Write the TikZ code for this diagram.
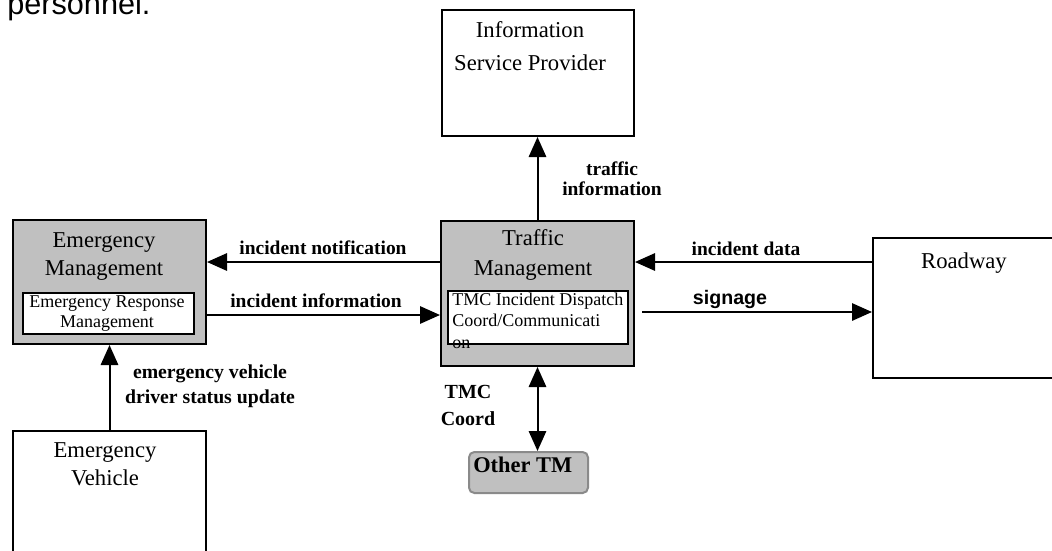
\documentclass[tikz,border=0pt]{standalone}
\usepackage{fontspec}
\setmainfont{Liberation Serif}
\newfontfamily\arialf{Liberation Sans}
\usetikzlibrary{arrows.meta}
\definecolor{boxgray}{HTML}{C0C0C0}
\definecolor{edgegray}{HTML}{8A8A8A}
\tikzset{
  box/.style={draw=black, line width=1.5pt, anchor=north west, inner sep=0pt, fill=white},
  graybox/.style={box, fill=boxgray},
  innerbox/.style={draw=black, line width=1.5pt, anchor=north west, inner sep=0pt, fill=white},
  arr/.style={line width=1.5pt, -{Triangle[length=15pt,width=13pt]}},
  darr/.style={line width=1.5pt, {Triangle[length=15pt,width=13pt]}-{Triangle[length=15pt,width=13pt]}},
  maintxt/.style={anchor=base, inner sep=0pt, align=center, font=\fontsize{17pt}{21pt}\selectfont},
  smalltxt/.style={anchor=base, inner sep=0pt, font=\fontsize{13.5pt}{15pt}\selectfont},
  lbl/.style={anchor=base, inner sep=0pt, align=center, font=\bfseries\fontsize{14.6pt}{15pt}\selectfont},
}
\begin{document}
\begin{tikzpicture}[x=0.75pt,y=-0.75pt]
\clip (0,0) rectangle (1052,550);
% top text fragment
\node[anchor=base west, inner sep=0pt, font=\arialf\fontsize{23pt}{27pt}\selectfont] (pers) at (7,14) {personnel.};
% boxes
\node[box, minimum width=144pt, minimum height=94.5pt] (isp) at (441,9) {};
\node[graybox, minimum width=144.75pt, minimum height=108.75pt] (tm) at (440,220) {};
\node[graybox, minimum width=144.75pt, minimum height=93pt] (em) at (12,219) {};
\node[box, minimum width=144.75pt, minimum height=105pt] (rw) at (872,237) {};
\node[box, minimum width=144.75pt, minimum height=97.5pt] (ev) at (12,430) {};
\node[innerbox, minimum width=128.25pt, minimum height=30.75pt] (emin) at (22,292) {};
\node[innerbox, minimum width=135pt, minimum height=39.75pt] (tmin) at (447,290) {};
\node[draw=edgegray, fill=boxgray, line width=1.5pt, rounded corners=4pt, anchor=north west, inner sep=0pt,
      minimum width=89.25pt, minimum height=30.75pt] (otm) at (468,451) {};
% box texts (anchor = baseline of last line)
\node[maintxt, font=\fontsize{17pt}{24.75pt}\selectfont] (isptxt) at (530,70) {Information\\Service Provider};
\node[maintxt, font=\fontsize{17pt}{22.5pt}\selectfont] (tmtxt) at (533,275) {Traffic\\Management};
\node[maintxt] (emtxt) at (104,275) {Emergency\\Management};
\node[maintxt] (evtxt) at (105,485) {Emergency\\Vehicle};
\node[maintxt] (rwtxt) at (964,268) {Roadway};
\node[smalltxt, align=center] (emintxt) at (107,327) {Emergency Response\\Management};
\node[smalltxt, align=left, anchor=base west, font=\fontsize{13.5pt}{16pt}\selectfont] (tmintxt) at (452,348) {TMC Incident Dispatch\\Coord/Communicati\\on};
\node[anchor=base west, inner sep=0pt, font=\bfseries\fontsize{16.8pt}{18pt}\selectfont] (otmtxt) at (473,472) {Other TM};
% connectors
\draw[arr] (tm.west |- 0,262) -- (em.east |- 0,262);
\draw[arr] (em.east |- 0,315) -- (tm.west |- 0,315);
\draw[arr] (rw.west |- 0,262) -- (tm.east |- 0,262);
\draw[arr] (tmin.east |- 0,312) ++(13,0) coordinate (sigstart) -- (rw.west |- 0,312);
\draw[arr] (tm.north) -- (isp.south -| tm.north);
\draw[darr] (tm.south) -- (tm.south |- otm.north);
\draw[arr] (ev.north) -- (em.south);
% connector labels
\node[lbl] (l1) at (323,254) {incident notification};
\node[lbl] (l2) at (316,307) {incident information};
\node[lbl] (l3) at (746,255) {incident data};
\node[anchor=base, inner sep=0pt, font=\arialf\bfseries\fontsize{14.7pt}{16pt}\selectfont] (l4) at (730,304) {signage};
\node[lbl, font=\bfseries\fontsize{14.6pt}{15pt}\selectfont] (l5) at (612,195) {traffic\\information};
\node[lbl, font=\bfseries\fontsize{15pt}{20pt}\selectfont] (l6) at (468,425) {TMC\\Coord};
\node[lbl, font=\bfseries\fontsize{14.8pt}{18.75pt}\selectfont] (l7) at (210,403) {emergency vehicle\\driver status update};
\end{tikzpicture}
\end{document}
